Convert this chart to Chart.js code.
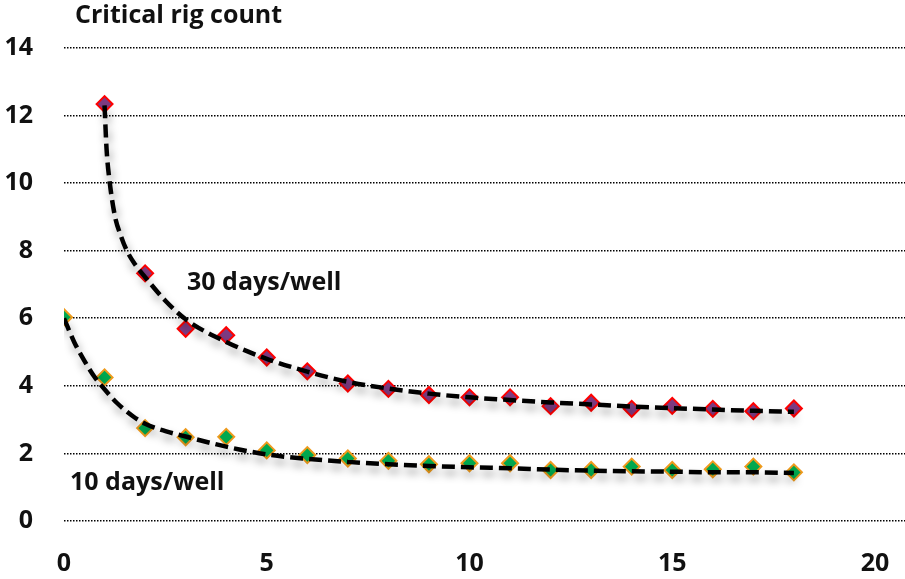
<!DOCTYPE html>
<html>
<head>
<meta charset="utf-8">
<script src="https://cdn.jsdelivr.net/npm/chart.js@4.4.1/dist/chart.umd.min.js"></script>
<style>
	html, body { margin: 0; padding: 0; background: #fff; }
	#holder { width: 905px; height: 579px; }
</style>
</head>
<body>
<div id="holder"><canvas id="rigChart" width="905" height="579"></canvas></div>
<script>
'use strict';

// measured points, 30 days/well
var wells30 = [1, 2, 3, 4, 5, 6, 7, 8, 9, 10, 11, 12, 13, 14, 15, 16, 17, 18];
var rigs30 = [12.34, 7.33, 5.69, 5.5, 4.84, 4.43, 4.07, 3.91, 3.73, 3.66, 3.66, 3.4, 3.5, 3.32, 3.41, 3.32, 3.25, 3.33];

// measured points, 10 days/well
var wells10 = [0, 1, 2, 3, 4, 5, 6, 7, 8, 9, 10, 11, 12, 13, 14, 15, 16, 17, 18];
var rigs10 = [6.03, 4.25, 2.75, 2.48, 2.49, 2.09, 1.95, 1.85, 1.78, 1.68, 1.71, 1.71, 1.51, 1.51, 1.61, 1.51, 1.53, 1.61, 1.44];

// dashed fit curves
var fit30X = [1, 1.05, 1.13, 1.26, 1.4, 1.55, 1.75, 2, 2.5, 3, 4, 5, 6, 7, 8, 9, 10, 11, 12, 13, 14, 15, 16, 17, 18];
var fit30Y = [12.3, 11.0, 10.0, 9.0, 8.45, 8.0, 7.6, 7.22, 6.52, 5.97, 5.3, 4.8, 4.42, 4.12, 3.92, 3.77, 3.66, 3.58, 3.51, 3.45, 3.39, 3.34, 3.3, 3.26, 3.23];
var fit10X = [0, 0.25, 0.5, 0.75, 1, 1.3, 1.7, 2, 2.5, 3, 4, 5, 6, 7, 8, 9, 10, 11, 12, 13, 14, 15, 16, 17, 18];
var fit10Y = [6.0, 5.3, 4.75, 4.27, 3.9, 3.5, 3.1, 2.88, 2.66, 2.5, 2.2, 1.97, 1.84, 1.75, 1.68, 1.63, 1.59, 1.56, 1.52, 1.49, 1.47, 1.46, 1.44, 1.44, 1.42];

var yTicks = [0, 2, 4, 6, 8, 10, 12, 14];
var xTicks = [0, 5, 10, 15, 20];

var boldFont = '"Open Sans", "Noto Sans", sans-serif';

function toPoints(xs, ys) {
	var pts = [];
	for (var i = 0; i < xs.length; i++) {
		pts.push({x: xs[i], y: ys[i]});
	}
	return pts;
}

// soft grey drop shadow under the fit curves
var fitShadow = {
	id: 'fitShadow',
	beforeDatasetDraw: function (chart, args) {
		if (!chart.data.datasets[args.index].isFit) {
			return;
		}
		var ctx = chart.ctx;
		ctx.save();
		ctx.shadowColor = 'rgba(0, 0, 0, 0.38)';
		ctx.shadowBlur = 8;
		ctx.shadowOffsetX = 2;
		ctx.shadowOffsetY = 6;
	},
	afterDatasetDraw: function (chart, args) {
		if (chart.data.datasets[args.index].isFit) {
			chart.ctx.restore();
		}
	}
};

// title and in-plot labels
var chartLabels = {
	id: 'chartLabels',
	afterDraw: function (chart) {
		var ctx = chart.ctx;
		ctx.save();
		ctx.fillStyle = '#111';
		ctx.font = 'bold 25px ' + boldFont;
		ctx.textAlign = 'left';
		ctx.textBaseline = 'alphabetic';
		ctx.fillText('Critical rig count', 75, 23);
		ctx.fillText('30 days/well', 187, 290);
		ctx.fillText('10 days/well', 70, 490);
		ctx.restore();
	}
};

var chart = new Chart(document.getElementById('rigChart'), {
	type: 'scatter',
	data: {
		datasets: [{
			label: '30 days/well fit',
			isFit: true,
			type: 'line',
			data: toPoints(fit30X, fit30Y),
			borderColor: '#000',
			borderWidth: 4.5,
			borderDash: [13, 6],
			pointRadius: 0,
			cubicInterpolationMode: 'monotone',
			fill: false,
			order: 0
		}, {
			label: '10 days/well fit',
			isFit: true,
			type: 'line',
			data: toPoints(fit10X, fit10Y),
			borderColor: '#000',
			borderWidth: 4.5,
			borderDash: [13, 6],
			pointRadius: 0,
			cubicInterpolationMode: 'monotone',
			fill: false,
			order: 1
		}, {
			label: '30 days/well',
			data: toPoints(wells30, rigs30),
			pointStyle: 'rectRot',
			pointRadius: 8,
			pointBackgroundColor: '#7D3B82',
			pointBorderColor: '#FF0000',
			pointBorderWidth: 2,
			order: 2
		}, {
			label: '10 days/well',
			data: toPoints(wells10, rigs10),
			pointStyle: 'rectRot',
			pointRadius: 8,
			pointBackgroundColor: '#00A84F',
			pointBorderColor: '#EE9A1C',
			pointBorderWidth: 2,
			order: 3
		}]
	},
	options: {
		responsive: false,
		animation: false,
		layout: {
			autoPadding: false,
			padding: {top: 48, right: 0, bottom: 0, left: 0}
		},
		plugins: {
			legend: {display: false},
			tooltip: {enabled: false},
			title: {display: false}
		},
		scales: {
			x: {
				type: 'linear',
				min: 0,
				max: 20.74,
				afterFit: function (scale) {
					// keep the plot running to the right edge
					scale.height = 58;
					scale.paddingLeft = 0;
					scale.paddingRight = 0;
				},
				afterBuildTicks: function (scale) {
					scale.ticks = xTicks.map(function (v) { return {value: v}; });
				},
				ticks: {
					autoSkip: false,
					maxRotation: 0,
					padding: 28,
					color: '#111',
					font: {family: boldFont, size: 25, weight: 'bold'}
				},
				grid: {display: false, drawTicks: false},
				border: {display: false}
			},
			y: {
				type: 'linear',
				min: 0,
				max: 14,
				afterFit: function (scale) {
					scale.width = 64;
				},
				afterBuildTicks: function (scale) {
					scale.ticks = yTicks.map(function (v) { return {value: v}; });
				},
				ticks: {
					autoSkip: false,
					padding: 31,
					color: '#111',
					font: {family: boldFont, size: 25, weight: 'bold'}
				},
				grid: {
					color: '#000',
					lineWidth: 1.6,
					drawTicks: false
				},
				border: {display: false, dash: [1.5, 1.5]}
			}
		}
	},
	plugins: [fitShadow, chartLabels]
});
</script>
</body>
</html>
